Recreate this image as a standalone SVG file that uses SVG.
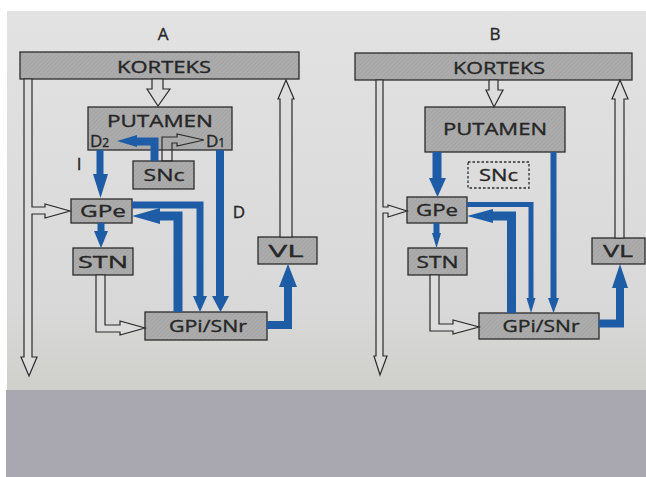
<svg xmlns="http://www.w3.org/2000/svg" width="646" height="477" viewBox="0 0 646 477">
<defs>
<linearGradient id="page" x1="0" y1="0" x2="0" y2="1">
<stop offset="0" stop-color="#e2e2e3"/>
<stop offset="0.8" stop-color="#d8d8d8"/>
<stop offset="1" stop-color="#cfcfcb"/>
</linearGradient>
<pattern id="hatch" width="3" height="3" patternUnits="userSpaceOnUse" patternTransform="rotate(45)">
<rect width="3" height="3" fill="#acacac"/>
<line x1="0" y1="0" x2="0" y2="3" stroke="#9c9c9c" stroke-width="1"/>
</pattern>
</defs>
<style>
.box{fill:url(#hatch);stroke:#2b2b2b;stroke-width:1.3}
.dash{fill:none;stroke:#2b2b2b;stroke-width:1.3;stroke-dasharray:2.5 2}
.t{font-family:"Open Sans","DejaVu Sans",sans-serif;font-size:17px;fill:#262626;stroke:#262626;stroke-width:0.35;text-anchor:middle}
.hol{fill:#dcdcdc;stroke:#2b2b2b;stroke-width:1.2;stroke-linejoin:miter}
.bl{fill:none;stroke:#1f5ca6;stroke-linejoin:miter}
.bh{fill:#1f5ca6}
</style>
<rect width="646" height="477" fill="#ffffff"/>
<rect x="7" y="11" width="639" height="379" fill="url(#page)"/>
<rect x="6" y="390" width="640" height="87" fill="#a9a8b0"/>

<text class="t" x="163" y="40">A</text>
<text class="t" x="495" y="40">B</text>

<g id="A-korteks"><rect class="box" x="20" y="52" width="279" height="27"/><text class="t" x="164" y="73" textLength="94" lengthAdjust="spacingAndGlyphs">KORTEKS</text></g>
<g id="A-putamen"><rect class="box" x="88" y="107" width="144" height="43"/><text class="t" x="160" y="127" textLength="106" lengthAdjust="spacingAndGlyphs">PUTAMEN</text>
<text class="t" x="90" y="147" style="text-anchor:start">D<tspan font-size="12">2</tspan></text>
<text class="t" x="206" y="147" style="text-anchor:start">D<tspan font-size="12">1</tspan></text></g>
<g id="A-snc"><rect class="box" x="133" y="161" width="61" height="28"/><text class="t" x="164" y="181" textLength="41" lengthAdjust="spacingAndGlyphs">SNc</text></g>
<g id="A-gpe"><rect class="box" x="71" y="199" width="61" height="24"/><text class="t" x="103" y="217" textLength="46" lengthAdjust="spacingAndGlyphs">GPe</text></g>
<g id="A-stn"><rect class="box" x="73" y="248" width="60" height="27"/><text class="t" x="103" y="268" textLength="50" lengthAdjust="spacingAndGlyphs">STN</text></g>
<g id="A-gpi"><rect class="box" x="145" y="312" width="122" height="28"/><text class="t" x="208" y="332" textLength="78" lengthAdjust="spacingAndGlyphs">GPi/SNr</text></g>
<g id="A-vl"><rect class="box" x="258" y="237" width="59" height="27"/><text class="t" x="286" y="257" textLength="35" lengthAdjust="spacingAndGlyphs">VL</text></g>
<text class="t" x="79" y="170">I</text>
<text class="t" x="239" y="218">D</text>

<g id="B-korteks"><rect class="box" x="355" y="53" width="277" height="27"/><text class="t" x="499" y="74" textLength="92" lengthAdjust="spacingAndGlyphs">KORTEKS</text></g>
<g id="B-putamen"><rect class="box" x="425" y="107" width="140" height="45"/><text class="t" x="495" y="135" textLength="104" lengthAdjust="spacingAndGlyphs">PUTAMEN</text></g>
<g id="B-snc"><rect class="dash" x="468" y="162" width="61" height="26"/><text class="t" x="498.5" y="181" textLength="39" lengthAdjust="spacingAndGlyphs">SNc</text></g>
<g id="B-gpe"><rect class="box" x="407" y="197" width="60" height="26"/><text class="t" x="437" y="216" textLength="42" lengthAdjust="spacingAndGlyphs">GPe</text></g>
<g id="B-stn"><rect class="box" x="408" y="248" width="59" height="27"/><text class="t" x="437.5" y="268" textLength="42" lengthAdjust="spacingAndGlyphs">STN</text></g>
<g id="B-gpi"><rect class="box" x="479" y="313" width="120" height="26"/><text class="t" x="541" y="332" textLength="77" lengthAdjust="spacingAndGlyphs">GPi/SNr</text></g>
<g id="B-vl"><rect class="box" x="592" y="238" width="53" height="26"/><text class="t" x="618" y="257" textLength="30" lengthAdjust="spacingAndGlyphs">VL</text></g>

<g id="connectors">
<!-- Panel A hollow -->
<polygon class="hol" points="24,79 24,357 21,357 29,376 37,357 32,357 32,214 45,214 45,218 70,211 45,204 45,207 32,207 32,79"/>
<polygon class="hol" points="152,79 152,89 147,89 158,106 170,89 163,89 163,79"/>
<polygon class="hol" points="280,237 280,99 278,99 286,80 294,99 292,99 292,237"/>
<polygon class="hol" points="96,275 96,332 120,332 120,335 145,328 120,321 120,325 105,325 105,275"/>
<polygon class="hol" fill-opacity="0" points="162,161 162,137 177,137 177,134 204,140 177,146 177,143 172,143 172,161"/>
<!-- Panel A blue -->
<path class="bl" stroke-width="7" d="M100,150 V175"/>
<polygon class="bh" points="93,174 108,174 100.5,198"/>
<path class="bl" stroke-width="8" d="M154.5,161 V141.5 H136"/>
<polygon class="bh" points="137,135 137,147 117,141"/>
<path class="bl" stroke-width="8" d="M220,150 V297"/>
<polygon class="bh" points="212,296 229,296 220.5,312"/>
<path class="bl" stroke-width="7" d="M132,205 H200 V297"/>
<polygon class="bh" points="193,296 207,296 200,312"/>
<path class="bl" stroke-width="9" d="M178,312 V216 H158"/>
<polygon class="bh" points="160,208 160,224 132,216"/>
<path class="bl" stroke-width="7" d="M101,223 V232"/>
<polygon class="bh" points="94,231 108,231 101,248"/>
<path class="bl" stroke-width="8" d="M267,325 H288 V285"/>
<polygon class="bh" points="279,287 297,287 288,264"/>

<!-- Panel B hollow -->
<polygon class="hol" points="376,80 376,356 374,356 380,375 387,356 383,356 383,213 388,213 388,217 407,211 388,205 388,207 383,207 383,80"/>
<polygon class="hol" points="489,80 489,90 486,90 494,107 503,90 498,90 498,80"/>
<polygon class="hol" points="615,238 615,99 612,99 620,80 628,99 624,99 624,238"/>
<polygon class="hol" points="430,275 430,331 453,331 453,334 479,327 453,320 453,324 439,324 439,275"/>
<!-- Panel B blue -->
<path class="bl" stroke-width="9" d="M437,152 V179"/>
<polygon class="bh" points="429,178 446,178 437.5,197"/>
<path class="bl" stroke-width="6" d="M553.5,152 V299"/>
<polygon class="bh" points="548,298 559,298 553.5,313"/>
<path class="bl" stroke-width="5" d="M467,204.5 H531 V299"/>
<polygon class="bh" points="526.5,298 535.5,298 531,313"/>
<path class="bl" stroke-width="9" d="M511.5,313 V216 H491"/>
<polygon class="bh" points="493,209 493,223 467,216"/>
<path class="bl" stroke-width="6" d="M436.5,223 V234"/>
<polygon class="bh" points="432,233 441,233 436.5,248"/>
<path class="bl" stroke-width="8" d="M599,323.5 H620 V286"/>
<polygon class="bh" points="612,288 628,288 620,264"/>
</g>
</svg>
